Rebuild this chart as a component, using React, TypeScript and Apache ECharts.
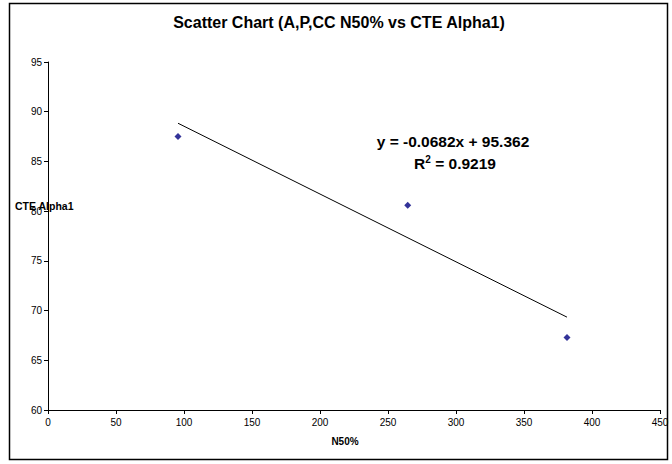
import React, { useEffect, useRef } from "react";
import * as echarts from "echarts";

const titleText = "Scatter Chart (A,P,CC N50% vs CTE Alpha1)";
const xAxisName = "N50%";
const yAxisName = "CTE Alpha1";
const points: [number, number][] = [
  [95.6, 87.5],
  [264.5, 80.6],
  [381.6, 67.3],
];
const trendLine: [number, number][] = [
  [95.6, 88.84],
  [381.6, 69.34],
];
const equationText = "y = -0.0682x + 95.362";
const r2Value = "0.9219";
const xMin = 0, xMax = 450, xStep = 50;
const yMin = 60, yMax = 95, yStep = 5;

const FONT = "'Liberation Sans', Arial, sans-serif";

export default function App() {
  const ref = useRef<HTMLDivElement>(null);
  useEffect(() => {
    if (!ref.current) return;
    const chart = echarts.init(ref.current, null, { renderer: "svg" });
    chart.setOption({
      animation: false,
      backgroundColor: "#ffffff",
      textStyle: { fontFamily: FONT },
      grid: { left: 48, right: 12, top: 62, bottom: 54, containLabel: false },
      xAxis: {
        type: "value",
        min: xMin,
        max: xMax,
        interval: xStep,
        splitLine: { show: false },
        axisLine: { show: true, onZero: false, lineStyle: { color: "#000", width: 1 } },
        axisTick: { show: true, length: 4, lineStyle: { color: "#000" } },
        axisLabel: { fontSize: 10, color: "#000", fontFamily: FONT, margin: 7 },
      },
      yAxis: {
        type: "value",
        min: yMin,
        max: yMax,
        interval: yStep,
        splitLine: { show: false },
        axisLine: { show: true, onZero: false, lineStyle: { color: "#000", width: 1 } },
        axisTick: { show: true, length: 4, lineStyle: { color: "#000" } },
        axisLabel: { fontSize: 10, color: "#000", fontFamily: FONT, margin: 6 },
      },
      series: [
        {
          type: "line",
          data: trendLine,
          showSymbol: false,
          symbol: "none",
          lineStyle: { color: "#000", width: 1 },
          z: 2,
        },
        {
          type: "scatter",
          data: points,
          symbol: "diamond",
          symbolSize: 7,
          itemStyle: { color: "#000080" },
          z: 3,
        },
      ],
      graphic: [
        {
          type: "rect",
          shape: { x: 9.5, y: 3.5, width: 658, height: 456 },
          style: { fill: "none", stroke: "#000", lineWidth: 1.5 },
          silent: true,
          z: 10,
        },
        {
          type: "text",
          x: 339,
          y: 22,
          style: {
            text: titleText,
            font: `bold 16px ${FONT}`,
            fill: "#000",
            textAlign: "center",
            textVerticalAlign: "middle",
          },
        },
        {
          type: "text",
          x: 15,
          y: 206,
          style: {
            text: yAxisName,
            font: `bold 10.5px ${FONT}`,
            fill: "#000",
            textAlign: "left",
            textVerticalAlign: "middle",
          },
          z: 20,
        },
        {
          type: "text",
          x: 345,
          y: 441,
          style: {
            text: xAxisName,
            font: `bold 10px ${FONT}`,
            fill: "#000",
            textAlign: "center",
            textVerticalAlign: "middle",
          },
        },
        {
          type: "text",
          x: 453,
          y: 141,
          style: {
            text: equationText,
            font: `bold 15.5px ${FONT}`,
            fill: "#000",
            textAlign: "center",
            textVerticalAlign: "middle",
          },
        },
        {
          type: "text",
          x: 455,
          y: 163,
          style: {
            text: "R{sup|2} = " + r2Value,
            font: `bold 15.5px ${FONT}`,
            fill: "#000",
            textAlign: "center",
            textVerticalAlign: "middle",
            rich: {
              sup: {
                font: `bold 10px ${FONT}`,
                fontSize: 10,
                fontWeight: "bold",
                verticalAlign: "top",
                lineHeight: 18,
                padding: [0, 0, 8, 0],
              },
            },
          },
        },
      ],
    });
    return () => chart.dispose();
  }, []);
  return (
    <div
      ref={ref}
      style={{ position: "fixed", left: 0, top: 0, width: 672, height: 464 }}
    />
  );
}
